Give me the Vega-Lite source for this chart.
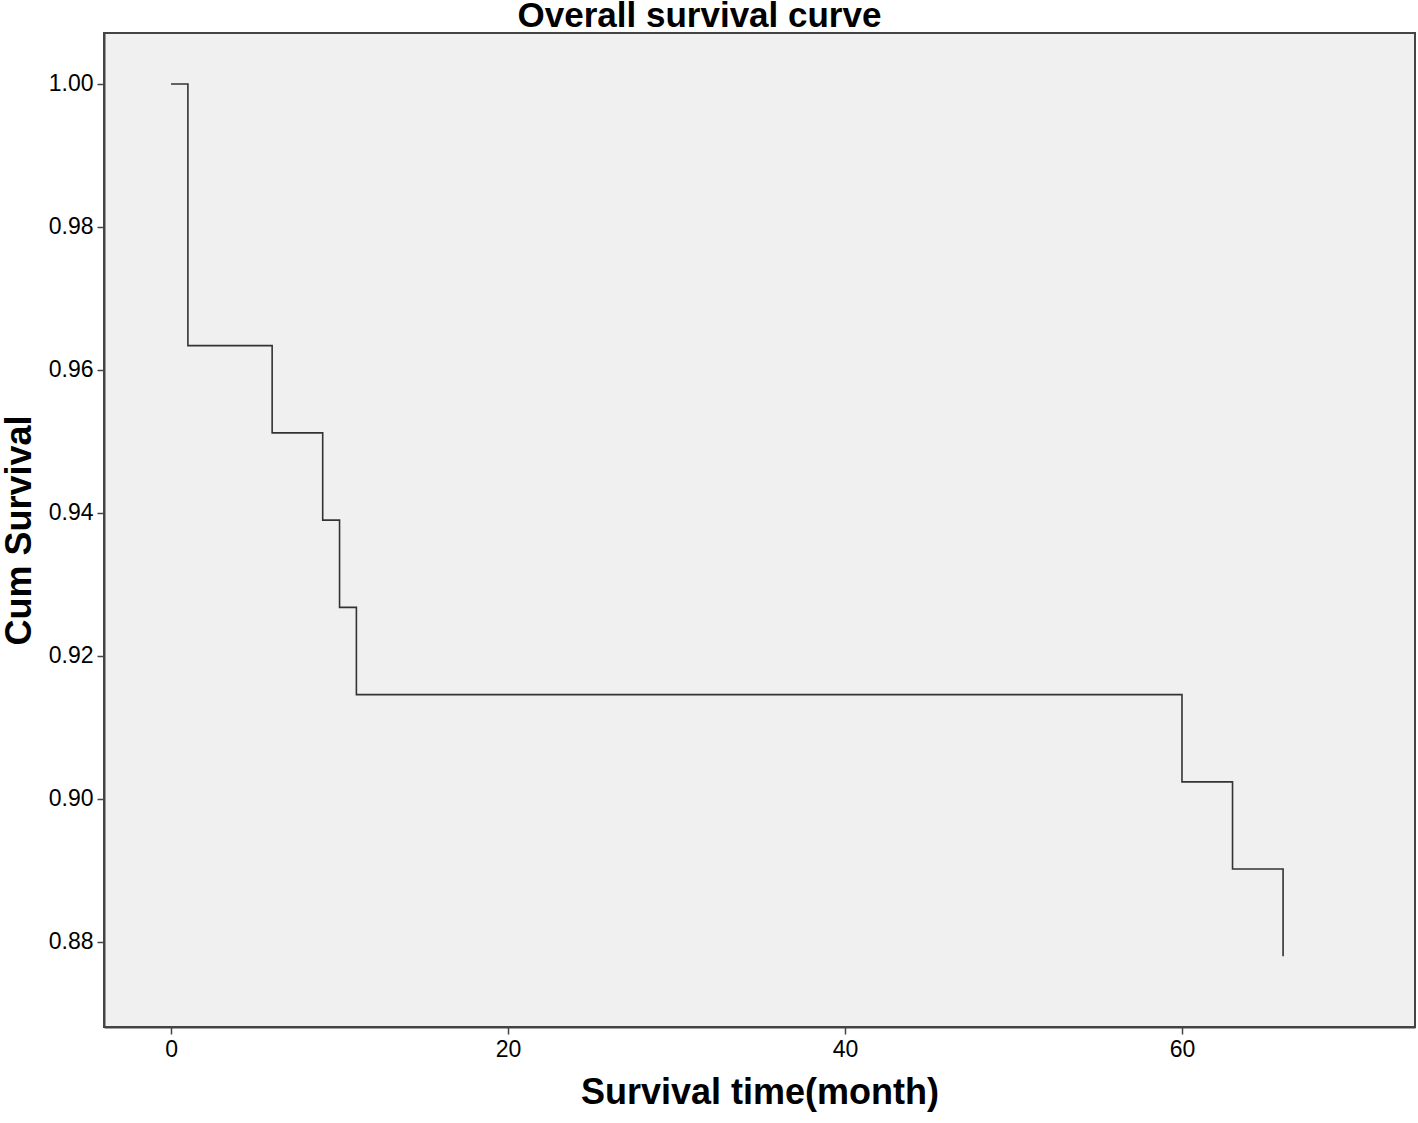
{
  "$schema": "https://vega.github.io/schema/vega-lite/v6.json",
  "width": 1311,
  "height": 994,
  "autosize": {"type": "none"},
  "padding": {"left": 104, "top": 33, "right": 3, "bottom": 96},
  "background": "white",
  "title": {
    "text": "Overall survival curve",
    "font": "Liberation Sans",
    "fontSize": 35,
    "fontWeight": "bold",
    "color": "black",
    "anchor": "middle",
    "dx": -60,
    "dy": 7,
    "offset": 6
  },
  "config": {
    "view": {"fill": "#F0F0F0", "stroke": "#444444", "strokeWidth": 2},
    "axis": {
      "labelFont": "Liberation Sans",
      "labelFontSize": 23,
      "labelColor": "black",
      "titleFont": "Liberation Sans",
      "titleFontSize": 36,
      "titleFontWeight": "bold",
      "titleColor": "black",
      "tickColor": "#444444",
      "tickSize": 7,
      "tickWidth": 1.5,
      "domainColor": "#444444",
      "domainWidth": 2,
      "grid": false
    }
  },
  "data": {
    "values": [
      {"time": 0, "survival": 1.0},
      {"time": 1, "survival": 0.9634},
      {"time": 6, "survival": 0.9512},
      {"time": 9, "survival": 0.939},
      {"time": 10, "survival": 0.9268},
      {"time": 11, "survival": 0.9146},
      {"time": 60, "survival": 0.9024},
      {"time": 63, "survival": 0.8902},
      {"time": 66, "survival": 0.878}
    ]
  },
  "mark": {"type": "line", "interpolate": "step-after", "color": "#333333", "strokeWidth": 1.6},
  "encoding": {
    "x": {
      "field": "time",
      "type": "quantitative",
      "scale": {"domain": [-3.98, 73.83], "nice": false, "zero": false},
      "axis": {"values": [0, 20, 40, 60], "title": "Survival time(month)", "labelPadding": 4, "titlePadding": 14, "format": "d"}
    },
    "y": {
      "field": "survival",
      "type": "quantitative",
      "scale": {"domain": [0.86811, 1.00713], "nice": false, "zero": false},
      "axis": {"values": [0.88, 0.9, 0.92, 0.94, 0.96, 0.98, 1.0], "format": ".2f", "title": "Cum Survival", "labelPadding": 4, "titlePadding": 10}
    }
  }
}
